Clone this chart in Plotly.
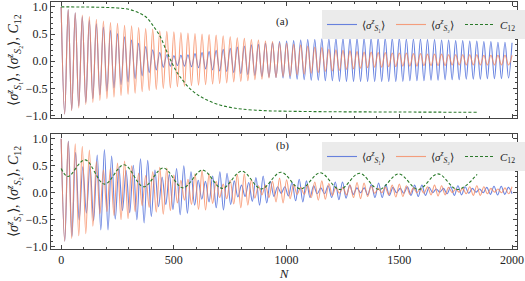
import numpy as np
import plotly.graph_objects as go

N_MAX = 2000

# ---------------- panel (a) ----------------
# extremum values (peaks start at N=0, troughs half a period later)
s1_a_peaks = [1.00, 0.95, 0.89, 0.82, 0.76, 0.69, 0.63, 0.57, 0.51, 0.45, 0.39, 0.33, 0.27, 0.21,
              0.16, 0.12, 0.10, 0.11, 0.12, 0.14, 0.16, 0.18, 0.20, 0.22, 0.24, 0.26, 0.28, 0.30,
              0.31, 0.33, 0.34, 0.36, 0.37, 0.38, 0.39, 0.40, 0.40, 0.41, 0.41, 0.42, 0.42, 0.42,
              0.42, 0.42, 0.42, 0.42, 0.42, 0.42, 0.42, 0.41, 0.41, 0.41, 0.40, 0.40, 0.39, 0.39,
              0.38, 0.38, 0.37, 0.37, 0.36, 0.36, 0.35, 0.35, 0.34]
s1_a_troughs = [-0.97, -0.90, -0.83, -0.76, -0.69, -0.62, -0.55, -0.49, -0.43, -0.38, -0.32, -0.27,
                -0.21, -0.16, -0.11, -0.09, -0.08, -0.09, -0.10, -0.12, -0.14, -0.16, -0.18, -0.19,
                -0.21, -0.23, -0.25, -0.26, -0.28, -0.29, -0.30, -0.31, -0.32, -0.33, -0.34, -0.35,
                -0.35, -0.36, -0.36, -0.37, -0.37, -0.37, -0.37, -0.37, -0.37, -0.37, -0.37, -0.37,
                -0.37, -0.36, -0.36, -0.36, -0.35, -0.35, -0.34, -0.34, -0.34, -0.33, -0.33, -0.33,
                -0.32, -0.32, -0.32, -0.31]
s2_a_peaks = [1.00, 0.95, 0.89, 0.85, 0.82, 0.77, 0.74, 0.71, 0.70, 0.66, 0.65, 0.62, 0.60, 0.59,
              0.56, 0.55, 0.54, 0.53, 0.52, 0.51, 0.50, 0.49, 0.48, 0.47, 0.45, 0.43, 0.42, 0.40,
              0.39, 0.37, 0.36, 0.34, 0.33, 0.31, 0.30, 0.28, 0.26, 0.25, 0.22, 0.21, 0.20, 0.19,
              0.18, 0.17, 0.17, 0.16, 0.16, 0.15, 0.15, 0.15, 0.14, 0.14, 0.13, 0.13, 0.13, 0.12,
              0.12, 0.12, 0.12, 0.12, 0.11, 0.11, 0.11, 0.11, 0.11]
s2_a_troughs = [-0.97, -0.91, -0.86, -0.80, -0.76, -0.72, -0.69, -0.66, -0.63, -0.61, -0.59, -0.56,
                -0.54, -0.52, -0.50, -0.49, -0.47, -0.46, -0.45, -0.44, -0.43, -0.42, -0.41, -0.40,
                -0.38, -0.37, -0.36, -0.34, -0.33, -0.31, -0.30, -0.28, -0.27, -0.25, -0.24, -0.22,
                -0.21, -0.19, -0.18, -0.17, -0.15, -0.14, -0.13, -0.12, -0.11, -0.11, -0.10, -0.10,
                -0.09, -0.09, -0.09, -0.08, -0.08, -0.08, -0.08, -0.07, -0.07, -0.07, -0.07, -0.07,
                -0.07, -0.07, -0.07, -0.07]
c12_a_N = [0, 150, 250, 300, 350, 380, 410, 440, 465, 488, 510, 530, 570, 610, 650, 700, 750, 800,
           900, 1000, 1200, 1500, 1845]
c12_a = [1.00, 0.995, 0.98, 0.955, 0.88, 0.80, 0.64, 0.45, 0.21, 0.00, -0.18, -0.30, -0.50, -0.63,
         -0.72, -0.80, -0.85, -0.88, -0.91, -0.92, -0.93, -0.935, -0.94]

# ---------------- panel (b) ----------------
# alternating extrema (peak, trough, peak, ...), evenly spaced over 0..2000
s1_b_ext = [1.00, -0.90, 0.96, -0.81, 0.75, -0.51, 0.48, -0.38, 0.51, -0.52, 0.70, -0.69, 0.80, -0.69,
            0.68, -0.49, 0.47, -0.33, 0.41, -0.37, 0.51, -0.50, 0.63, -0.56, 0.60, -0.44, 0.42, -0.26,
            0.29, -0.22, 0.34, -0.31, 0.45, -0.41, 0.50, -0.38, 0.39, -0.23, 0.23, -0.12, 0.21, -0.17,
            0.31, -0.28, 0.39, -0.32, 0.36, -0.22, 0.22, -0.08, 0.14, -0.07, 0.19, -0.16, 0.28, -0.23,
            0.31, -0.19, 0.21, -0.07, 0.11, -0.01, 0.11, -0.06, 0.19, -0.15, 0.25, -0.17, 0.22, -0.09,
            0.13, -0.02, 0.09, -0.02, 0.13, -0.09, 0.20, -0.13, 0.20, -0.10, 0.14, -0.03, 0.09, 0.00,
            0.09, -0.04, 0.15, -0.09, 0.18, -0.09, 0.15, -0.05, 0.10, 0.00, 0.08, -0.01, 0.11, -0.05,
            0.14, -0.07, 0.14, -0.05, 0.10, 0.00, 0.07, 0.01, 0.08, -0.02, 0.11, -0.05, 0.13, -0.04,
            0.11, -0.01, 0.08, 0.01, 0.07, 0.00, 0.10, -0.03, 0.12, -0.04, 0.12, -0.03, 0.10, -0.02]
s2_b_ext = [1.00, -0.90, 0.95, -0.85, 0.91, -0.80, 0.86, -0.76, 0.79, -0.62, 0.58, -0.39, 0.42, -0.35,
            0.46, -0.42, 0.55, -0.50, 0.59, -0.48, 0.50, -0.35, 0.36, -0.24, 0.32, -0.27, 0.39, -0.36,
            0.47, -0.40, 0.46, -0.33, 0.33, -0.19, 0.23, -0.14, 0.25, -0.22, 0.35, -0.31, 0.41, -0.32,
            0.35, -0.20, 0.21, -0.09, 0.16, -0.11, 0.23, -0.21, 0.34, -0.28, 0.35, -0.23, 0.24, -0.10,
            0.13, -0.04, 0.14, -0.09, 0.21, -0.17, 0.27, -0.19, 0.24, -0.11, 0.15, -0.03, 0.10, -0.03,
            0.14, -0.09, 0.20, -0.14, 0.22, -0.12, 0.17, -0.05, 0.10, -0.01, 0.10, -0.04, 0.14, -0.09,
            0.19, -0.11, 0.18, -0.07, 0.12, -0.01, 0.08, 0.00, 0.10, -0.04, 0.14, -0.08, 0.16, -0.07,
            0.13, -0.03, 0.09, 0.00, 0.08, -0.01, 0.11, -0.04, 0.14, -0.06, 0.13, -0.04, 0.10, 0.00,
            0.07, 0.01, 0.08, -0.02, 0.11, -0.05, 0.13, -0.05, 0.11, -0.02, 0.08, 0.01, 0.07, 0.00,
            0.09, -0.02, 0.11]
c12_b_N = [0, 30, 106, 192, 279, 366, 453, 540, 627, 714, 801, 888, 975, 1062, 1149, 1236, 1323,
           1410, 1497, 1584, 1671, 1758, 1845]
c12_b = [0.45, 0.30, 0.61, 0.16, 0.52, 0.11, 0.46, 0.09, 0.42, 0.08, 0.40, 0.07, 0.38, 0.07, 0.37,
         0.06, 0.36, 0.06, 0.35, 0.06, 0.35, 0.06, 0.34]

x_ticks = [0, 500, 1000, 1500, 2000]
y_ticks = [-1.0, -0.5, 0.0, 0.5, 1.0]

# ------------------------------------------------
def interleave(peaks, troughs, n_max):
    p = n_max / (len(peaks) - 1)
    xs, ys = [], []
    for k, v in enumerate(peaks):
        xs.append(k * p)
        ys.append(v)
        if k < len(troughs):
            xs.append((k + 0.5) * p)
            ys.append(troughs[k])
    return xs, ys

def spread(vals, n_max):
    return list(np.linspace(0, n_max, len(vals))), vals

BLUE = "rgba(80,110,218,0.85)"
ORANGE = "rgba(246,135,92,0.78)"
GREEN = "#2a7a2a"
FONT = "Liberation Serif"
LW = 1.1
TXT = "#222"
AX = "#444"

lab1 = "⟨<i>σ</i><sup><i>z</i></sup><sub><i>S</i>₁</sub>⟩"
lab2 = "⟨<i>σ</i><sup><i>z</i></sup><sub><i>S</i>₂</sub>⟩"
labC = "<i>C</i><sub>12</sub>"

fig = go.Figure()

xa1, ya1 = interleave(s1_a_peaks, s1_a_troughs, N_MAX)
xa2, ya2 = interleave(s2_a_peaks, s2_a_troughs, N_MAX)
xb1, yb1 = spread(s1_b_ext, N_MAX)
xb2, yb2 = spread(s2_b_ext, N_MAX)

fig.add_trace(go.Scatter(x=xa1, y=ya1, mode="lines", line=dict(color=BLUE, width=LW, shape="spline"),
                         name=lab1, legend="legend", xaxis="x", yaxis="y"))
fig.add_trace(go.Scatter(x=xa2, y=ya2, mode="lines", line=dict(color=ORANGE, width=LW, shape="spline"),
                         name=lab2, legend="legend", xaxis="x", yaxis="y"))
fig.add_trace(go.Scatter(x=c12_a_N, y=c12_a, mode="lines",
                         line=dict(color=GREEN, width=1.1, dash="3px,2px", shape="spline"),
                         name=labC, legend="legend", xaxis="x", yaxis="y"))

fig.add_trace(go.Scatter(x=xb1, y=yb1, mode="lines", line=dict(color=BLUE, width=LW, shape="spline"),
                         name=lab1, legend="legend2", xaxis="x2", yaxis="y2"))
fig.add_trace(go.Scatter(x=xb2, y=yb2, mode="lines", line=dict(color=ORANGE, width=LW, shape="spline"),
                         name=lab2, legend="legend2", xaxis="x2", yaxis="y2"))
fig.add_trace(go.Scatter(x=c12_b_N, y=c12_b, mode="lines",
                         line=dict(color=GREEN, width=1.1, dash="3px,2px", shape="spline"),
                         name=labC, legend="legend2", xaxis="x2", yaxis="y2"))

W, H = 525, 281
ML, MR, MT, MB = 51, 8, 2, 32
ph = H - MT - MB
pw = W - ML - MR
top_a, bot_a = 2, 118
top_b, bot_b = 134, 249
def fy(py):
    return (H - MB - py) / ph
def fx(px):
    return (px - ML) / pw

XR = [-45, 2022]
YR = [-1.045, 1.09]

common_x = dict(range=XR, showgrid=False, zeroline=False, showline=True, linecolor=AX,
                linewidth=1, mirror="allticks", ticks="inside", ticklen=4, tickcolor=AX,
                tickvals=x_ticks, automargin=False,
                minor=dict(ticks="inside", ticklen=2, dtick=100, tick0=0, tickcolor=AX),
                tickfont=dict(family=FONT, size=12, color=TXT))
common_y = dict(range=YR, showgrid=False, zeroline=False, showline=True, linecolor=AX,
                linewidth=1, mirror="allticks", ticks="inside", ticklen=4, tickcolor=AX,
                tickvals=y_ticks, tickformat=".1f", automargin=False,
                minor=dict(ticks="inside", ticklen=2, dtick=0.1, tick0=0, tickcolor=AX),
                tickfont=dict(family=FONT, size=12, color=TXT),
                title=dict(text=lab1 + ", " + lab2 + ", " + labC,
                           font=dict(family=FONT, size=14, color=TXT), standoff=3))

leg_common = dict(orientation="h", xanchor="left", yanchor="top", bgcolor="#ebebeb",
                  borderwidth=0, font=dict(family=FONT, size=11, color=TXT),
                  itemwidth=30, entrywidth=24, entrywidthmode="pixels", tracegroupgap=0)

fig.update_layout(
    width=W, height=H, margin=dict(l=ML, r=MR, t=MT, b=MB, autoexpand=False),
    paper_bgcolor="white", plot_bgcolor="white",
    xaxis=dict(common_x, domain=[0, 1], anchor="y", showticklabels=False),
    yaxis=dict(common_y, domain=[fy(bot_a), fy(top_a)], anchor="x"),
    xaxis2=dict(common_x, domain=[0, 1], anchor="y2",
                title=dict(text="<i>N</i>", font=dict(family=FONT, size=13, color=TXT),
                           standoff=0)),
    yaxis2=dict(common_y, domain=[fy(bot_b), fy(top_b)], anchor="x2"),
    legend=dict(leg_common, x=fx(322), y=fy(10)),
    legend2=dict(leg_common, x=fx(322), y=fy(142)),
    annotations=[
        dict(text="(a)", x=fx(282), y=fy(13), xref="paper", yref="paper",
             showarrow=False, font=dict(family=FONT, size=11, color=TXT)),
        dict(text="(b)", x=fx(282), y=fy(145), xref="paper", yref="paper",
             showarrow=False, font=dict(family=FONT, size=11, color=TXT)),
    ],
)

fig.write_html("out.html", config={"displayModeBar": False},
               post_script="document.body.style.margin='0';document.body.style.padding='0';")
